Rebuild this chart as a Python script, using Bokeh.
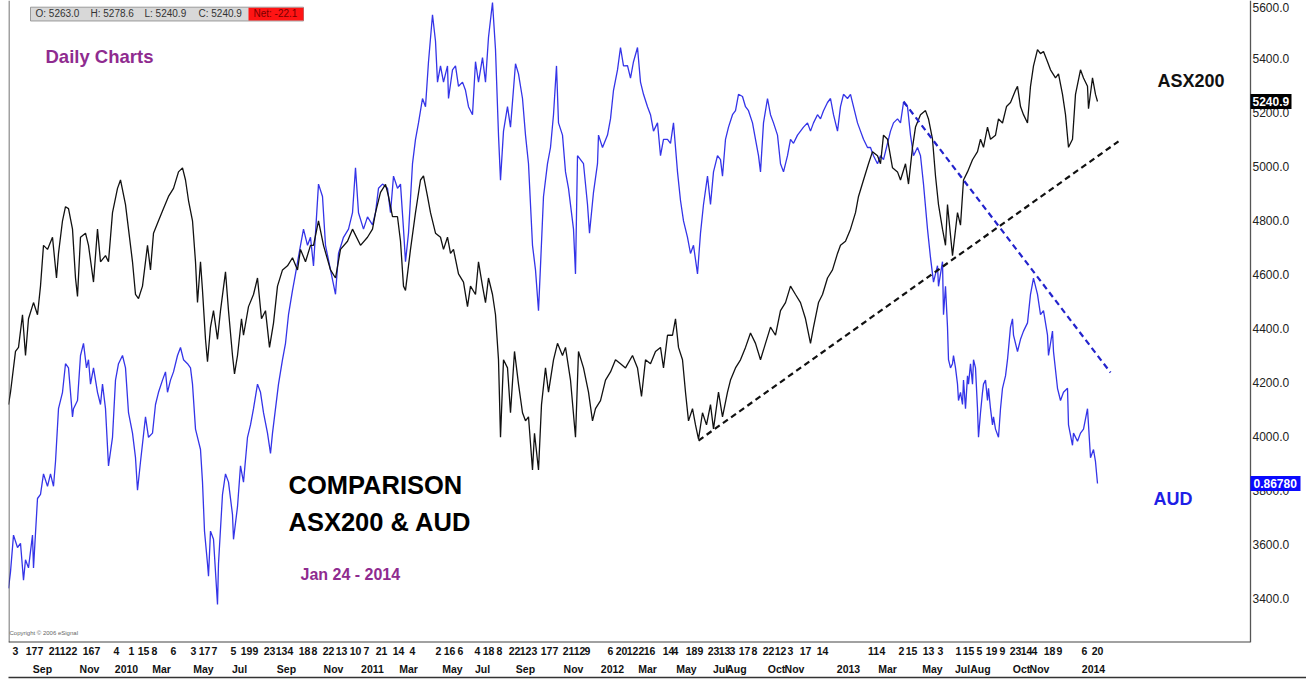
from bokeh.plotting import figure
from bokeh.models import Range1d, LinearAxis, FixedTicker, Label, Span, ColumnDataSource
from bokeh.core.properties import value
from bokeh.embed import file_html
from bokeh.resources import INLINE

# ---------------- data (bar index = trading day from left edge) ----------------
asx_bar = [0, 2, 7, 10, 14, 17, 20, 25, 29, 32,
           35, 39, 44, 48, 50, 54, 57, 60, 64, 67,
           69, 72, 77, 80, 85, 89, 92, 97, 100, 104,
           109, 112, 117, 120, 124, 127, 130, 134, 139, 142,
           145, 150, 155, 160, 165, 170, 174, 177, 180, 184,
           187, 189, 192, 194, 197, 199, 202, 205, 209, 212,
           217, 220, 224, 226, 229, 233, 235, 240, 245, 249,
           253, 257, 261, 265, 269, 274, 279, 284, 289, 292,
           297, 302,
           305, 310, 315, 322, 327, 332, 339, 344, 352, 359,
           364, 367, 372, 377, 380, 384, 389, 392, 395, 397,
           402, 407, 412, 415, 419, 422, 427, 432, 435, 439,
           442, 445, 450, 455, 459, 462, 467, 470, 474, 477,
           480, 484, 487, 490, 492, 495, 499, 502, 506, 510,
           514, 517, 520, 524, 526, 530, 533, 537, 540, 545,
           549, 554, 557, 562, 567, 570, 575, 580, 584, 587,
           592, 597, 602, 607, 612, 617,
           624, 629, 633, 637, 642, 647, 652, 655, 659, 664,
           667, 670, 674, 677, 680, 684, 687, 690, 694, 698,
           702, 705, 710, 714, 719, 722, 727, 732, 737, 742,
           747, 752, 757, 762, 767, 772, 777, 782, 787, 792,
           797, 802, 805, 810, 814, 819, 824, 829, 832, 837,
           842, 847, 850, 855, 860, 864, 869, 872, 875, 879,
           884, 889, 892, 897, 900, 904, 907, 912, 917, 920,
           924,
           927, 930, 934, 937, 939, 944, 949, 952, 955, 959,
           964, 969, 972, 975, 979, 982, 987, 990, 994, 998,
           1002, 1007, 1009, 1012, 1015, 1019, 1022, 1025, 1029, 1032,
           1035, 1039, 1042, 1047, 1050, 1054, 1057, 1060, 1064, 1067,
           1072, 1075, 1079, 1080, 1084, 1087, 1089]
asx_close = [4118, 4164, 4315, 4330, 4451, 4300, 4436, 4496, 4451, 4557,
             4708, 4693, 4738, 4587, 4678, 4799, 4851, 4844, 4768, 4587,
             4519, 4738, 4753, 4708, 4572, 4768, 4647, 4670, 4647, 4829,
             4919, 4950, 4859, 4768, 4647, 4526, 4511, 4557, 4708, 4617,
             4753, 4799, 4844, 4889, 4919, 4980, 4995, 4950, 4874, 4799,
             4647, 4496, 4647, 4541, 4360, 4277, 4405, 4466, 4360, 4466,
             4610, 4466, 4300, 4232, 4300, 4436, 4375, 4481, 4526, 4587,
             4436, 4466, 4330, 4420, 4557, 4617, 4632, 4662, 4617, 4693,
             4647, 4708,
             4708, 4799, 4708, 4617, 4587, 4693, 4723, 4768, 4708, 4738,
             4768, 4829, 4904, 4934, 4889, 4814, 4814, 4723, 4557, 4541,
             4693, 4829, 4950, 4965, 4889, 4829, 4753, 4738, 4693, 4738,
             4678, 4693, 4602, 4572, 4481, 4557, 4526, 4647, 4557, 4496,
             4587, 4526, 4451, 4284, 3997, 4284, 4254, 4088, 4315, 4194,
             4088, 4058, 4073, 3876, 4012, 3876, 4118, 4254, 4164, 4284,
             4345, 4300, 4330, 4209, 3997, 4315, 4254, 4164, 4058, 4103,
             4133, 4209, 4239, 4284, 4269, 4254,
             4300, 4254, 4148, 4284, 4269, 4315, 4330, 4254, 4375, 4375,
             4436, 4330, 4284, 4164, 4058, 4103, 4043, 3990, 4088, 4043,
             4118, 4028, 4164, 4073, 4164, 4209, 4254, 4284, 4330, 4383,
             4345, 4284, 4345, 4405, 4375, 4466, 4496, 4557, 4526, 4496,
             4436, 4345, 4405, 4496, 4526, 4587, 4617, 4678, 4708, 4723,
             4768, 4829, 4889, 4950, 5010, 5055, 5040, 5010, 5116, 5101,
             4995, 4980, 4950, 5010, 4935, 5071, 5146, 5192, 5207, 5176,
             5101,
             4965, 4859, 4768, 4708, 4859, 4670, 4829, 4783, 4950, 4980,
             5025, 5055, 5101, 5071, 5146, 5101, 5116, 5176, 5161, 5222,
             5237, 5282, 5297, 5222, 5192, 5161, 5297, 5373, 5433, 5418,
             5426, 5388, 5358, 5328, 5343, 5267, 5192, 5071, 5101, 5267,
             5358, 5328, 5297, 5214, 5328, 5267, 5240.9]

aud_bar = [0, 2, 5, 9, 12, 15, 17, 20, 24, 25,
           29, 32, 35, 39, 42, 45, 47, 50, 54, 57,
           60, 64, 65, 69, 72, 75, 78, 80, 82, 85,
           89, 92, 94, 97, 100, 104, 107, 110, 114, 117,
           120, 124, 127, 129, 132, 137, 140, 144, 147, 150,
           154, 157, 159, 162, 165, 169, 172, 175, 179, 182,
           184, 187, 190, 192, 194, 196, 199, 200, 202, 205,
           209, 210, 214, 217, 220, 224, 225, 229, 232, 235,
           239, 242, 245, 249, 252, 255, 259, 262, 264, 267,
           270, 274, 277, 280, 284, 287, 292, 295, 299, 302,
           305, 310, 314, 317, 322, 327, 330, 335, 340, 344,
           347, 350, 355, 359, 364, 367, 370, 374, 379, 382,
           385, 389, 392, 395, 397, 400, 404, 407, 410, 414,
           417, 420, 424, 427, 429, 432, 435, 439, 440, 444,
           447, 450, 454, 457, 460, 464, 467, 470, 474, 477,
           480, 484, 487, 490, 492, 495, 499, 502, 507, 510,
           514, 517, 520, 524, 527, 530, 532, 535, 539, 542,
           545, 548, 550, 554, 557, 560, 565, 567, 569, 572,
           575, 579, 581, 585, 589, 590, 594, 599, 602, 605,
           609, 612, 615,
           619, 622, 625, 629, 632, 635, 639, 642, 645, 649,
           652, 655, 659, 662, 665, 669, 672, 675, 679, 682,
           685, 689, 692, 695, 699, 702, 705, 709, 712, 714,
           717, 720, 724, 727, 730, 734, 737, 740, 744, 747,
           750, 752, 755, 759, 762, 765, 769, 772, 775, 779,
           782, 785, 789, 792, 795, 799, 802, 805, 809, 812,
           815, 819, 822, 825, 829, 832, 835, 839, 842, 845,
           849, 852, 855, 859, 862, 865, 869, 872, 875, 879,
           882, 885, 889, 892, 895, 899, 902, 905, 909, 912,
           915, 919, 922,
           925, 929, 930, 934, 935, 937, 939, 940, 942, 944,
           945, 947, 949, 950, 952, 954, 955, 957, 959, 960,
           962, 964, 965, 967, 969, 970, 972, 974, 975, 977,
           979, 980, 982, 984, 985, 987, 990, 992, 994, 995,
           997, 999, 1002, 1004, 1005, 1009, 1012, 1015, 1019, 1022,
           1025, 1029, 1032, 1035, 1039, 1040, 1044, 1045, 1049, 1052,
           1055, 1059, 1060, 1064, 1065, 1069, 1072, 1075, 1079, 1080,
           1082, 1085, 1087, 1089]
aud_close = [0.8154, 0.8236, 0.8420, 0.8358, 0.8379, 0.8195, 0.8297, 0.8256, 0.8420, 0.8256,
             0.8603, 0.8624, 0.8726, 0.8664, 0.8726, 0.8664, 0.8787, 0.9052, 0.9134, 0.9277,
             0.9256, 0.9011, 0.9052, 0.9093, 0.9318, 0.9379, 0.9256, 0.9297, 0.9175, 0.9256,
             0.9134, 0.9073, 0.9175, 0.9052, 0.8766, 0.8909, 0.9195, 0.9277, 0.9318, 0.9256,
             0.9032, 0.8930, 0.8807, 0.8644, 0.8787, 0.9011, 0.8909, 0.8930, 0.9073, 0.9134,
             0.9195, 0.9236, 0.9134, 0.9195, 0.9236, 0.9318, 0.9358, 0.9297, 0.9277, 0.9256,
             0.9175, 0.8950, 0.8889, 0.8848, 0.8685, 0.8440, 0.8277, 0.8215, 0.8440, 0.8399,
             0.8073, 0.8277, 0.8624, 0.8726, 0.8685, 0.8522, 0.8399, 0.8562, 0.8766, 0.8685,
             0.8909, 0.8971, 0.9052, 0.9175, 0.9134, 0.9032, 0.8930, 0.8828, 0.8930, 0.9052,
             0.9175, 0.9297, 0.9379, 0.9522, 0.9644, 0.9726, 0.9869, 0.9950, 0.9869, 0.9909,
             0.9766, 1.0175, 1.0113, 0.9869, 0.9746, 0.9624, 0.9828, 0.9909, 0.9950, 1.0032,
             1.0256, 1.0032, 0.9950, 1.0011, 0.9971, 1.0032, 1.0154, 1.0175, 1.0154, 1.0032,
             1.0215, 1.0154, 1.0175, 0.9950, 0.9787, 0.9930, 1.0277, 1.0399, 1.0481, 1.0603,
             1.0562, 1.0787, 1.1022, 1.0889, 1.0685, 1.0766, 1.0685, 1.0766, 1.0603, 1.0746,
             1.0766, 1.0664, 1.0685, 1.0644, 1.0562, 1.0522, 1.0787, 1.0685, 1.0807, 1.0685,
             1.0909, 1.1083, 1.0848, 1.0420, 1.0195, 1.0440, 1.0562, 1.0460, 1.0777, 1.0726,
             1.0603, 1.0420, 1.0277, 0.9869, 0.9746, 0.9542, 0.9766, 1.0113, 1.0277, 1.0358,
             1.0522, 1.0766, 1.0481, 1.0420, 1.0236, 1.0154, 0.9950, 0.9726, 1.0317, 1.0297,
             1.0277, 1.0073, 0.9930, 1.0134, 1.0277, 1.0420, 1.0358, 1.0420, 1.0501, 1.0644,
             1.0746, 1.0858, 1.0766,
             1.0767, 1.0705, 1.0787, 1.0858, 1.0685, 1.0624, 1.0562, 1.0522, 1.0440, 1.0481,
             1.0317, 1.0399, 1.0399, 1.0379, 1.0481, 1.0236, 1.0093, 0.9991, 0.9909, 0.9828,
             0.9869, 0.9726, 0.9930, 1.0073, 1.0215, 1.0073, 1.0236, 1.0317, 1.0297, 1.0215,
             1.0399, 1.0460, 1.0522, 1.0542, 1.0624, 1.0613, 1.0562, 1.0542, 1.0481, 1.0399,
             1.0317, 1.0236, 1.0481, 1.0603, 1.0522, 1.0481, 1.0420, 1.0277, 1.0236, 1.0317,
             1.0399, 1.0379, 1.0420, 1.0440, 1.0460, 1.0481, 1.0440, 1.0481, 1.0522, 1.0501,
             1.0542, 1.0583, 1.0603, 1.0522, 1.0440, 1.0562, 1.0624, 1.0603, 1.0624, 1.0562,
             1.0481, 1.0440, 1.0399, 1.0358, 1.0358, 1.0317, 1.0277, 1.0317, 1.0297, 1.0379,
             1.0440, 1.0481, 1.0501, 1.0481, 1.0583, 1.0562, 1.0420, 1.0317, 1.0358, 1.0317,
             1.0175, 0.9950, 0.9807,
             0.9685, 0.9767, 0.9664, 0.9787, 0.9522, 0.9664, 0.9460, 0.9297, 0.9256, 0.9277,
             0.9318, 0.9256, 0.9175, 0.9093, 0.9134, 0.9073, 0.9195, 0.9052, 0.9216, 0.9175,
             0.9277, 0.9175, 0.9297, 0.9256, 0.9052, 0.8909, 0.9032, 0.9134, 0.9175, 0.9195,
             0.9093, 0.9154, 0.9052, 0.8971, 0.9011, 0.8950, 0.8909, 0.9052, 0.9154, 0.9175,
             0.9216, 0.9297, 0.9460, 0.9501, 0.9420, 0.9338, 0.9399, 0.9440, 0.9481, 0.9624,
             0.9705, 0.9624, 0.9522, 0.9542, 0.9420, 0.9318, 0.9440, 0.9338, 0.9154, 0.9093,
             0.9134, 0.9154, 0.8971, 0.8869, 0.8930, 0.8889, 0.8930, 0.8950, 0.9052, 0.8971,
             0.8807, 0.8848, 0.8787, 0.8678]

# trend lines (ASX support, AUD resistance)
asx_trend_bar = [690, 1110]
asx_trend_val = [3985, 5093]
aud_trend_bar = [895, 1102]
aud_trend_val = [1.0588, 0.9233]

# last values shown as flags on the price scale
asx_last = 5240.9
aud_last = 0.86780

# axis ticks
y_ticks = [3400, 3600, 3800, 4000, 4200, 4400, 4600, 4800, 5000, 5200, 5400]
y_top_tick = 5600
day_bars = [7, 23, 32, 46, 57, 66, 80, 89, 108, 123, 135, 146, 165, 185, 196, 206,
            225, 238, 247, 261, 273, 282, 296, 306, 320, 333, 347, 358, 373, 390,
            404, 430, 441, 452, 469, 480, 491, 506, 517, 526, 538, 547, 560, 571,
            579, 602, 613, 624, 633, 641, 660, 667, 683, 692, 705, 716, 724, 736,
            746, 760, 772, 782, 797, 814, 865, 874, 893, 903, 920, 932, 950, 960,
            971, 983, 994, 1007, 1018, 1026, 1041, 1051, 1076, 1089]
day_labels = ["3", "17", "7", "21", "12", "2", "16", "7", "4", "1", "15", "8", "6", "3", "17", "7",
              "5", "19", "9", "23", "13", "4", "18", "8", "22", "13", "10", "7", "21", "14",
              "4", "2", "16", "6", "4", "18", "8", "22", "12", "3", "17", "7", "21", "12",
              "9", "6", "20", "12", "2", "16", "14", "4", "18", "9", "23", "13", "3", "17",
              "8", "22", "12", "3", "17", "14", "11", "4", "2", "15", "13", "3", "1", "15",
              "5", "19", "9", "23", "14", "4", "18", "9", "6", "20"]
month_bars = [34, 81, 118, 153, 195, 231, 278, 325, 364, 400, 444, 474, 517, 565, 604,
              639, 678, 712, 728, 768, 786, 840, 879, 924, 954, 972, 1013, 1031, 1085]
month_labels = ["Sep", "Nov", "2010", "Mar", "May", "Jul", "Sep", "Nov", "2011", "Mar", "May",
                "Jul", "Sep", "Nov", "2012", "Mar", "May", "Jul", "Aug", "Oct", "Nov", "2013",
                "Mar", "May", "Jul", "Aug", "Oct", "Nov", "2014"]

FONT = "Liberation Sans"
Y0, Y1 = 3237.0, 5614.8          # ASX scale shown
A0, A1 = 0.7883, 1.1093          # AUD scale overlaid on the same height
SCALE_X = 1242                   # bar position of the price scale line

p = figure(width=1306, height=679, output_backend="svg", toolbar_location=None,
           x_range=Range1d(0, 1298), y_range=Range1d(Y0, Y1),
           x_axis_location=None, y_axis_location=None,
           min_border_left=8, min_border_top=0, min_border_bottom=37, min_border_right=0)
p.extra_y_ranges = {"aud": Range1d(A0, A1)}
p.grid.visible = False
p.outline_line_color = None
p.background_fill_color = "white"
p.border_fill_color = "white"


def bottom_axis(ticks, labels, standoff, line_color=None):
    ax = LinearAxis(ticker=FixedTicker(ticks=ticks, minor_ticks=[]),
                    major_label_overrides={b: l for b, l in zip(ticks, labels)})
    ax.major_tick_out = 0
    ax.major_tick_in = 0
    ax.minor_tick_out = 0
    ax.minor_tick_in = 0
    ax.axis_line_color = line_color
    ax.major_label_text_font = FONT
    ax.major_label_text_font_size = "10.5px"
    ax.major_label_text_font_style = "bold"
    ax.major_label_text_color = "#111111"
    ax.major_label_standoff = standoff
    p.add_layout(ax, "below")
    return ax


bottom_axis(day_bars, day_labels, 4)          # day numbers
bottom_axis(month_bars, month_labels, 5)      # months / years
closing = LinearAxis(ticker=FixedTicker(ticks=[], minor_ticks=[]))   # rule under the dates
closing.major_tick_out = 0
closing.major_tick_in = 0
closing.minor_tick_out = 0
closing.major_label_standoff = 0
closing.axis_line_color = "#333333"
closing.axis_line_width = 1.5
p.add_layout(closing, "below")

# chart box: left edge, bottom edge and price-scale line
p.add_layout(Span(location=0.5, dimension="height", line_color="#444444", line_width=1))
p.segment(x0=[0], y0=[Y0], x1=[SCALE_X], y1=[Y0], line_color="#444444", line_width=2)
p.segment(x0=[SCALE_X], y0=[Y0], x1=[SCALE_X], y1=[Y1], line_color="#555555", line_width=1.3)

# price scale labels
p.text(x=[SCALE_X + 2] * len(y_ticks), y=y_ticks, text=["%.1f" % t for t in y_ticks],
       text_font=value(FONT), text_font_size="12px", text_color="#222222",
       text_baseline="middle", text_align="left")
p.text(x=[SCALE_X + 2], y=[y_top_tick], text=["%.1f" % y_top_tick], y_offset=3,
       text_font=value(FONT), text_font_size="12px", text_color="#222222",
       text_baseline="middle", text_align="left")

# series
asx_src = ColumnDataSource(dict(x=asx_bar, y=asx_close))
aud_src = ColumnDataSource(dict(x=aud_bar, y=aud_close))
p.line("x", "y", source=aud_src, y_range_name="aud", line_color="#3434e8", line_width=1.3)
p.line("x", "y", source=asx_src, line_color="#111111", line_width=1.3)

p.line(asx_trend_bar, asx_trend_val, line_color="#111111", line_width=2.2, line_dash="6 4")
p.line(aud_trend_bar, aud_trend_val, y_range_name="aud", line_color="#2323cc",
       line_width=2.2, line_dash="6 4")

# last-value flags
ASX_H = 28.0      # half flag height in ASX units
AUD_H = 0.0038    # half flag height in AUD units
p.quad(left=[SCALE_X], right=[SCALE_X + 41], bottom=[asx_last - ASX_H], top=[asx_last + ASX_H],
       fill_color="#000000", line_color=None)
p.text(x=[SCALE_X + 2], y=[asx_last], text=["%.1f" % asx_last], text_font=value(FONT),
       text_font_size="12px", text_font_style="bold", text_color="#ffffff",
       text_baseline="middle", text_align="left")
p.quad(left=[SCALE_X], right=[SCALE_X + 50], bottom=[aud_last - AUD_H], top=[aud_last + AUD_H],
       fill_color="#0a0aff", line_color=None, y_range_name="aud")
p.text(x=[SCALE_X + 3], y=[aud_last], text=["%.5f" % aud_last], text_font=value(FONT),
       text_font_size="12px", text_font_style="bold", text_color="#ffffff",
       text_baseline="middle", text_align="left", y_range_name="aud")

# header strip
p.quad(left=[22], right=[295], bottom=[5539], top=[5590], fill_color="#d8d8d8",
       line_color="#9a9a9a", line_width=1)
p.quad(left=[240], right=[295], bottom=[5541], top=[5588], fill_color="#ff1414", line_color=None)
for bx, t, col in [(27, "O: 5263.0", "#333333"), (82, "H: 5278.6", "#333333"),
                   (136, "L: 5240.9", "#333333"), (190, "C: 5240.9", "#333333"),
                   (245, "Net: -22.1", "#7a0000")]:
    p.add_layout(Label(x=bx, y=5566, text=t, text_font=FONT, text_font_size="10px",
                       text_color=col, text_baseline="middle", text_align="left"))


def lab(x, y, text, size, color, style="bold"):
    p.add_layout(Label(x=x, y=y, text=text, text_font=FONT, text_font_size=size,
                       text_font_style=style, text_color=color, text_baseline="middle",
                       text_align="left"))


lab(37, 5407, "Daily Charts", "18.5px", "#8f2b8f")
lab(280, 3822, "COMPARISON", "25.5px", "#000000")
lab(280, 3685, "ASX200 & AUD", "25.5px", "#000000")
lab(292, 3489, "Jan 24 - 2014", "16px", "#8f2b8f")
lab(1149, 5315, "ASX200", "18px", "#111111")
lab(1145, 3770, "AUD", "18px", "#1f1fe6")
lab(1, 3274, "Copyright \u00a9 2006 eSignal", "6px", "#666666", style="normal")

open("out.html", "w").write(file_html(p, INLINE))
